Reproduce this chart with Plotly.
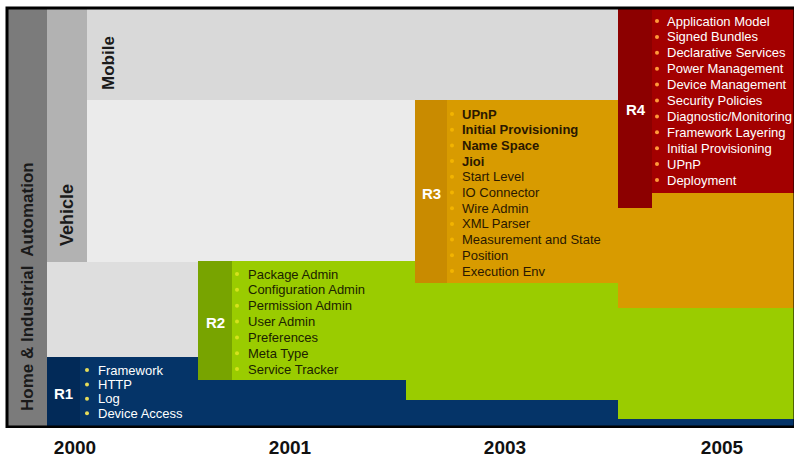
import plotly.graph_objects as go

# ---------------- data ----------------
years = ["2000", "2001", "2003", "2005"]
markets = ["Home & Industrial  Automation", "Vehicle", "Mobile"]
releases = ["R1", "R2", "R3", "R4"]
r1_items = ["Framework", "HTTP", "Log", "Device Access"]
r2_items = ["Package Admin", "Configuration Admin", "Permission Admin", "User Admin",
            "Preferences", "Meta Type", "Service Tracker"]
r3_items = ["UPnP", "Initial Provisioning", "Name Space", "Jioi", "Start Level",
            "IO Connector", "Wire Admin", "XML Parser", "Measurement and State",
            "Position", "Execution Env"]
r3_bold = [True, True, True, True] + [False] * 7
r4_items = ["Application Model", "Signed Bundles", "Declarative Services",
            "Power Management", "Device Management", "Security Policies",
            "Diagnostic/Monitoring", "Framework Layering", "Initial Provisioning",
            "UPnP", "Deployment"]

# ---------------- layout geometry (diagram units = px) ----------------
W, H, PLOT_H = 794, 463, 428
year_pos = [75, 290, 505, 722]

FONT = "Liberation Sans, Arial, sans-serif"

# background blocks: (x0, x1, y0, y1, color)
blocks = [
    (8, 47, 9, 426, "#7b7b7b"),      # home & industrial
    (47, 87, 9, 262, "#b2b2b2"),     # vehicle
    (47, 198, 262, 357, "#dedede"),
    (87, 618, 9, 100, "#d9d9d9"),    # mobile
    (87, 415, 100, 262, "#ebebeb"),
    # R1 navy
    (47, 794, 357, 426, "#053468"),
    # R2 green
    (198, 618, 261, 380, "#9acc00"),
    (406, 618, 261, 400, "#9acc00"),
    (618, 794, 261, 419, "#9acc00"),
    # R3 orange
    (415, 618, 100, 283, "#d89b00"),
    (618, 794, 100, 308, "#d89b00"),
    # R4 red
    (618, 794, 9, 193, "#a30000"),
    # label columns
    (47, 80, 357, 426, "#022a58"),
    (198, 232, 261, 380, "#78a400"),
    (415, 447, 100, 283, "#c98b00"),
    (618, 652, 9, 208, "#8c0000"),
]

rel_label_pos = [(63, 393), (215, 322), (431, 193), (636, 109)]
rel_lists = [
    dict(items=r1_items, bold=[False] * 4, x=97, bx=87, y0=370, dy=14.4,
         color="#ffffff", bcolor="#e6dc5a"),
    dict(items=r2_items, bold=[False] * 7, x=247, bx=237, y0=274, dy=15.85,
         color="#1b2300", bcolor="#d4e21c"),
    dict(items=r3_items, bold=r3_bold, x=461, bx=452, y0=114, dy=15.7,
         color="#2a1800", bcolor="#f2b400"),
    dict(items=r4_items, bold=[False] * 11, x=666, bx=657, y0=21, dy=15.9,
         color="#ffffff", bcolor="#ff9a3a"),
]
market_pos = [(27, 287, 17), (67, 215, 18), (108, 63, 17)]

fig = go.Figure()

shapes = []
for x0, x1, y0, y1, c in blocks:
    shapes.append(dict(type="rect", xref="x", yref="y", x0=x0, x1=x1, y0=y0, y1=y1,
                       fillcolor=c, line=dict(width=0), layer="below"))
# black frame
shapes.append(dict(type="rect", xref="x", yref="y", x0=7, x1=795, y0=8, y1=427,
                   fillcolor="rgba(0,0,0,0)", line=dict(color="#000000", width=3)))

annotations = []
for name, (mx, my, fs) in zip(markets, market_pos):
    annotations.append(dict(x=mx, y=my, xref="x", yref="y", text="<b>%s</b>" % name,
                            textangle=-90, showarrow=False,
                            font=dict(family=FONT, size=fs, color="#1a1a1a")))

for name, (lx, ly) in zip(releases, rel_label_pos):
    annotations.append(dict(x=lx, y=ly, xref="x", yref="y", text="<b>%s</b>" % name,
                            showarrow=False, font=dict(family=FONT, size=15, color="#ffffff")))

for spec in rel_lists:
    bx, by = [], []
    for i, (item, b) in enumerate(zip(spec["items"], spec["bold"])):
        y = spec["y0"] + i * spec["dy"]
        txt = "<b>%s</b>" % item if b else item
        annotations.append(dict(x=spec["x"], y=y, xref="x", yref="y", text=txt,
                                xanchor="left", yanchor="middle", showarrow=False,
                                borderpad=0,
                                font=dict(family=FONT, size=13, color=spec["color"])))
        bx.append(spec["bx"])
        by.append(y)
    fig.add_trace(go.Scatter(x=bx, y=by, mode="markers", hoverinfo="skip",
                             marker=dict(size=4, color=spec["bcolor"]),
                             showlegend=False))

fig.update_layout(
    width=W, height=H,
    margin=dict(l=0, r=0, t=0, b=H - PLOT_H),
    paper_bgcolor="#ffffff", plot_bgcolor="#ffffff",
    shapes=shapes, annotations=annotations, showlegend=False,
    xaxis=dict(range=[0, W], showgrid=False, zeroline=False, showline=False,
               tickvals=year_pos, ticktext=["<b>%s</b>" % y for y in years],
               ticks="", ticklabelstandoff=6,
               tickfont=dict(family=FONT, size=19, color="#111111"),
               fixedrange=True),
    yaxis=dict(range=[PLOT_H, 0], showgrid=False, zeroline=False, showline=False,
               showticklabels=False, fixedrange=True),
)

fig.write_html("out.html", config={"displayModeBar": False},
               post_script="document.body.style.margin='0';document.body.style.overflow='hidden';")
